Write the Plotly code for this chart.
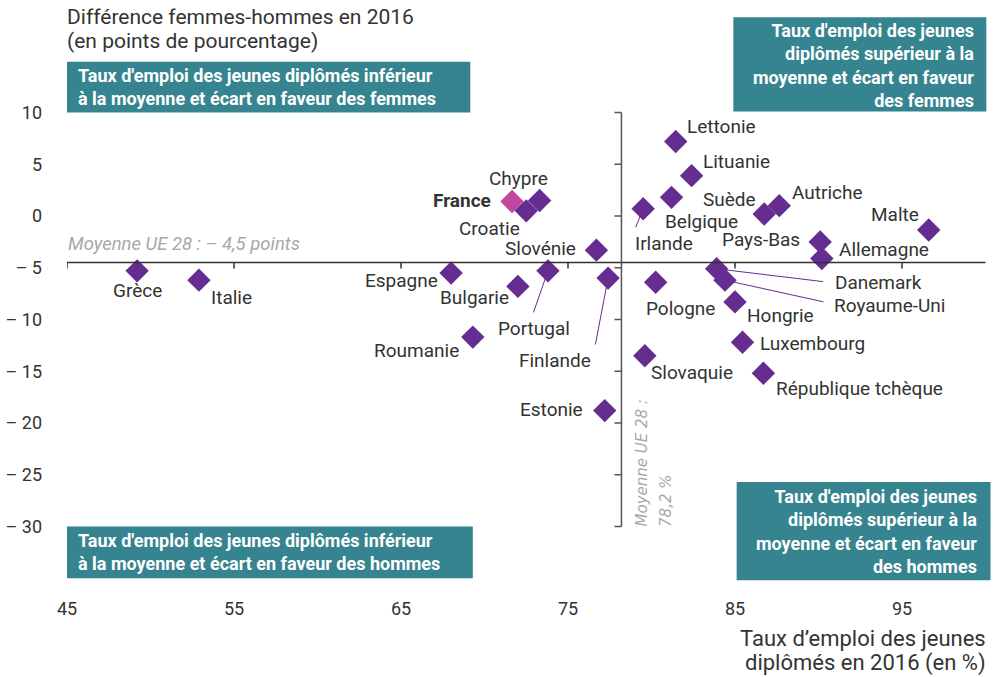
import plotly.graph_objects as go

# ---- data -------------------------------------------------------------
pays = ["Grèce", "Italie", "Espagne", "Roumanie", "France", "Bulgarie", "Croatie",
        "Chypre", "Portugal", "Slovénie", "Estonie", "Finlande", "Irlande",
        "Slovaquie", "Pologne", "Belgique", "Lettonie", "Lituanie", "Danemark",
        "Royaume-Uni", "Hongrie", "Luxembourg", "République tchèque", "Suède",
        "Autriche", "Pays-Bas", "Allemagne", "Malte"]
taux_emploi = [49.2, 52.9, 68.0, 69.3, 71.65, 72.0, 72.5,
               73.3, 73.8, 76.7, 77.2, 77.4, 79.5,
               79.6, 80.25, 81.2, 81.45, 82.4, 83.9,
               84.4, 85.0, 85.45, 86.7, 86.75,
               87.65, 90.1, 90.2, 96.6]
ecart_fh = [-5.3, -6.2, -5.5, -11.7, 1.4, -6.8, 0.5,
            1.5, -5.3, -3.3, -18.8, -6.0, 0.7,
            -13.5, -6.4, 1.8, 7.2, 3.9, -5.1,
            -6.2, -8.3, -12.2, -15.2, 0.2,
            1.0, -2.5, -4.1, -1.35]

moyenne_taux = 78.2
moyenne_ecart = -4.5

x_ticks = [45, 55, 65, 75, 85, 95]
y_ticks = [10, 5, 0, -5, -10, -15, -20, -25, -30]
y_ticktext = ["10", "5", "0", "– 5", "– 10", "– 15", "– 20", "– 25", "– 30"]

# ---- style ------------------------------------------------------------
FONT = "Roboto"
TXT = "#333333"
PURPLE = "#662D91"
PINK = "#C2479E"
TEAL = "#35848F"
GREY = "#A8A8A8"

# label placement: xanchor, xshift, yshift, leader (ax, ay) or None
label_pos = {
    "Grèce": ("center", 0, -20, None),
    "Italie": ("left", 10, -17, None),
    "Espagne": ("right", -11, -8, None),
    "Roumanie": ("right", -12, -13, None),
    "France": ("right", -19, 1, None),
    "Bulgarie": ("right", -7, -11, None),
    "Croatie": ("center", -37, -18, None),
    "Chypre": ("center", -21, 22, None),
    "Portugal": ("center", -14, -58, (-15, 43)),
    "Slovénie": ("right", -18, 2, None),
    "Estonie": ("right", -20, 1, None),
    "Finlande": ("center", -53, -82, (-13, 68)),
    "Irlande": ("center", 21, -35, (-8, 20)),
    "Slovaquie": ("center", 47, -17, None),
    "Pologne": ("center", 25, -26, None),
    "Belgique": ("center", 30, -24, None),
    "Lettonie": ("left", 9, 15, None),
    "Lituanie": ("left", 9, 14, None),
    "Danemark": ("left", 116, -14, (108, 13)),
    "Royaume-Uni": ("left", 107, -25, (100, 22)),
    "Hongrie": ("center", 45, -14, None),
    "Luxembourg": ("left", 15, -1, None),
    "République tchèque": ("center", 96, -15, None),
    "Suède": ("center", -35, 14, None),
    "Autriche": ("left", 11, 13, None),
    "Pays-Bas": ("right", -18, 2, None),
    "Allemagne": ("left", 15, 9, None),
    "Malte": ("center", -34, 15, None),
}

colors = [PINK if p == "France" else PURPLE for p in pays]

fig = go.Figure()
fig.add_trace(go.Scatter(
    x=taux_emploi, y=ecart_fh, mode="markers",
    marker=dict(symbol="diamond", size=18, color=colors, line=dict(width=0)),
    text=pays, hoverinfo="text", showlegend=False,
))

shapes = []
# average lines (custom axes)
shapes.append(dict(type="line", xref="x", yref="y", x0=45, x1=100,
                   y0=moyenne_ecart, y1=moyenne_ecart,
                   line=dict(color="#333333", width=1.5)))
shapes.append(dict(type="line", xref="x", yref="y", x0=moyenne_taux, x1=moyenne_taux,
                   y0=-30, y1=10, line=dict(color="#555555", width=1.5)))
for t in x_ticks:
    shapes.append(dict(type="line", xref="x", yref="y", ysizemode="pixel",
                       yanchor=moyenne_ecart, x0=t, x1=t, y0=0, y1=-6,
                       line=dict(color="#333333", width=1.5)))
for t in y_ticks:
    shapes.append(dict(type="line", xref="x", yref="y", xsizemode="pixel",
                       xanchor=moyenne_taux, x0=0, x1=-7, y0=t, y1=t,
                       line=dict(color="#555555", width=1.5)))

# quadrant boxes
boxes = [
    (45, 69.15, 10, 14.9),
    (84.9, 100.05, 10.1, 19.2),
    (45, 69.3, -30, -35.0),
    (85.1, 100.3, -25.7, -35.2),
]
for x0, x1, y0, y1 in boxes:
    shapes.append(dict(type="rect", xref="x", yref="y", x0=x0, x1=x1, y0=y0, y1=y1,
                       fillcolor=TEAL, line=dict(width=0), layer="below"))

annotations = []
box_font = dict(family=FONT, size=18, color="white")
annotations += [
    dict(x=45.55, y=12.45, xref="x", yref="y", xanchor="left", yanchor="middle",
         align="left", showarrow=False, font=box_font,
         text="<b>Taux d'emploi des jeunes diplômés inférieur<br>à la moyenne et écart en faveur des femmes</b>"),
    dict(x=99.45, y=14.5, xref="x", yref="y", xanchor="right", yanchor="middle",
         align="right", showarrow=False, font=box_font,
         text="<b>Taux d'emploi des jeunes<br>diplômés supérieur à la<br>moyenne et écart en faveur<br>des femmes</b>"),
    dict(x=45.55, y=-32.5, xref="x", yref="y", xanchor="left", yanchor="middle",
         align="left", showarrow=False, font=box_font,
         text="<b>Taux d'emploi des jeunes diplômés inférieur<br>à la moyenne et écart en faveur des hommes</b>"),
    dict(x=99.6, y=-30.45, xref="x", yref="y", xanchor="right", yanchor="middle",
         align="right", showarrow=False, font=box_font,
         text="<b>Taux d'emploi des jeunes<br>diplômés supérieur à la<br>moyenne et écart en faveur<br>des hommes</b>"),
]

# average texts
annotations.append(dict(x=45, y=moyenne_ecart, xref="x", yref="y", xanchor="left",
                        yanchor="middle", yshift=19, xshift=-1, showarrow=False,
                        text="<i>Moyenne UE 28 : – 4,5 points</i>",
                        font=dict(family=FONT, size=18.5, color=GREY)))
vfont = dict(family="DejaVu Sans", size=15, color=GREY)
for txt, xs in [("<i>Moyenne UE 28 :</i>", 21), ("<i>78,2 %</i>", 44)]:
    annotations.append(dict(x=moyenne_taux, y=-30, xref="x", yref="y", xanchor="center",
                            yanchor="bottom", xshift=xs, yshift=-2, showarrow=False,
                            textangle=-90, text=txt, font=vfont))

# titles (one annotation per line for tight DIN-like spacing)
title_font = dict(family=FONT, size=21, color=TXT)
for txt, py in [("Différence femmes-hommes en 2016", 17),
                ("(en points de pourcentage)", 41)]:
    annotations.append(dict(x=0, y=(581 - py) / 567, xref="paper", yref="paper",
                            xanchor="left", yanchor="middle", xshift=-2,
                            showarrow=False, text=txt, font=title_font))
xt_font = dict(family=FONT, size=22, color=TXT)
for txt, py in [("Taux d’emploi des jeunes", 639),
                ("diplômés en 2016 (en %)", 663)]:
    annotations.append(dict(x=(988 - 67) / 924, y=(581 - py) / 567, xref="paper",
                            yref="paper", xanchor="right", yanchor="middle",
                            showarrow=False, text=txt, font=xt_font))

# country labels
for p, xv, yv in zip(pays, taux_emploi, ecart_fh):
    xa, xs, ys, lead = label_pos[p]
    txt = f"<b>{p}</b>" if p == "France" else p
    if lead is not None:
        annotations.append(dict(x=xv, y=yv, xref="x", yref="y", text="",
                                showarrow=True, arrowhead=0, arrowwidth=1,
                                arrowcolor=PURPLE, ax=lead[0], ay=lead[1],
                                standoff=6))
    annotations.append(dict(x=xv, y=yv, xref="x", yref="y", text=txt,
                            showarrow=False, xanchor=xa, yanchor="middle",
                            xshift=xs, yshift=ys,
                            font=dict(family=FONT, size=19, color=TXT)))

fig.update_layout(
    width=995, height=677,
    margin=dict(l=67, r=4, t=14, b=96),
    paper_bgcolor="white", plot_bgcolor="white",
    font=dict(family=FONT, color=TXT),
    shapes=shapes, annotations=annotations,
    xaxis=dict(range=[45, 45 + 924 / 16.7], showgrid=False, zeroline=False,
               showline=False, tickvals=x_ticks, ticks="",
               ticklabelstandoff=15, tickfont=dict(family=FONT, size=18, color=TXT)),
    yaxis=dict(range=[(216 - 581) / 10.35, (216 - 14) / 10.35], showgrid=False,
               zeroline=False, showline=False, tickvals=y_ticks, ticktext=y_ticktext,
               ticks="", ticklabelstandoff=24,
               tickfont=dict(family=FONT, size=18, color=TXT)),
)

fig.write_html("out.html", config={"displayModeBar": False},
               post_script="document.body.style.margin='0';document.body.style.overflow='hidden';")
